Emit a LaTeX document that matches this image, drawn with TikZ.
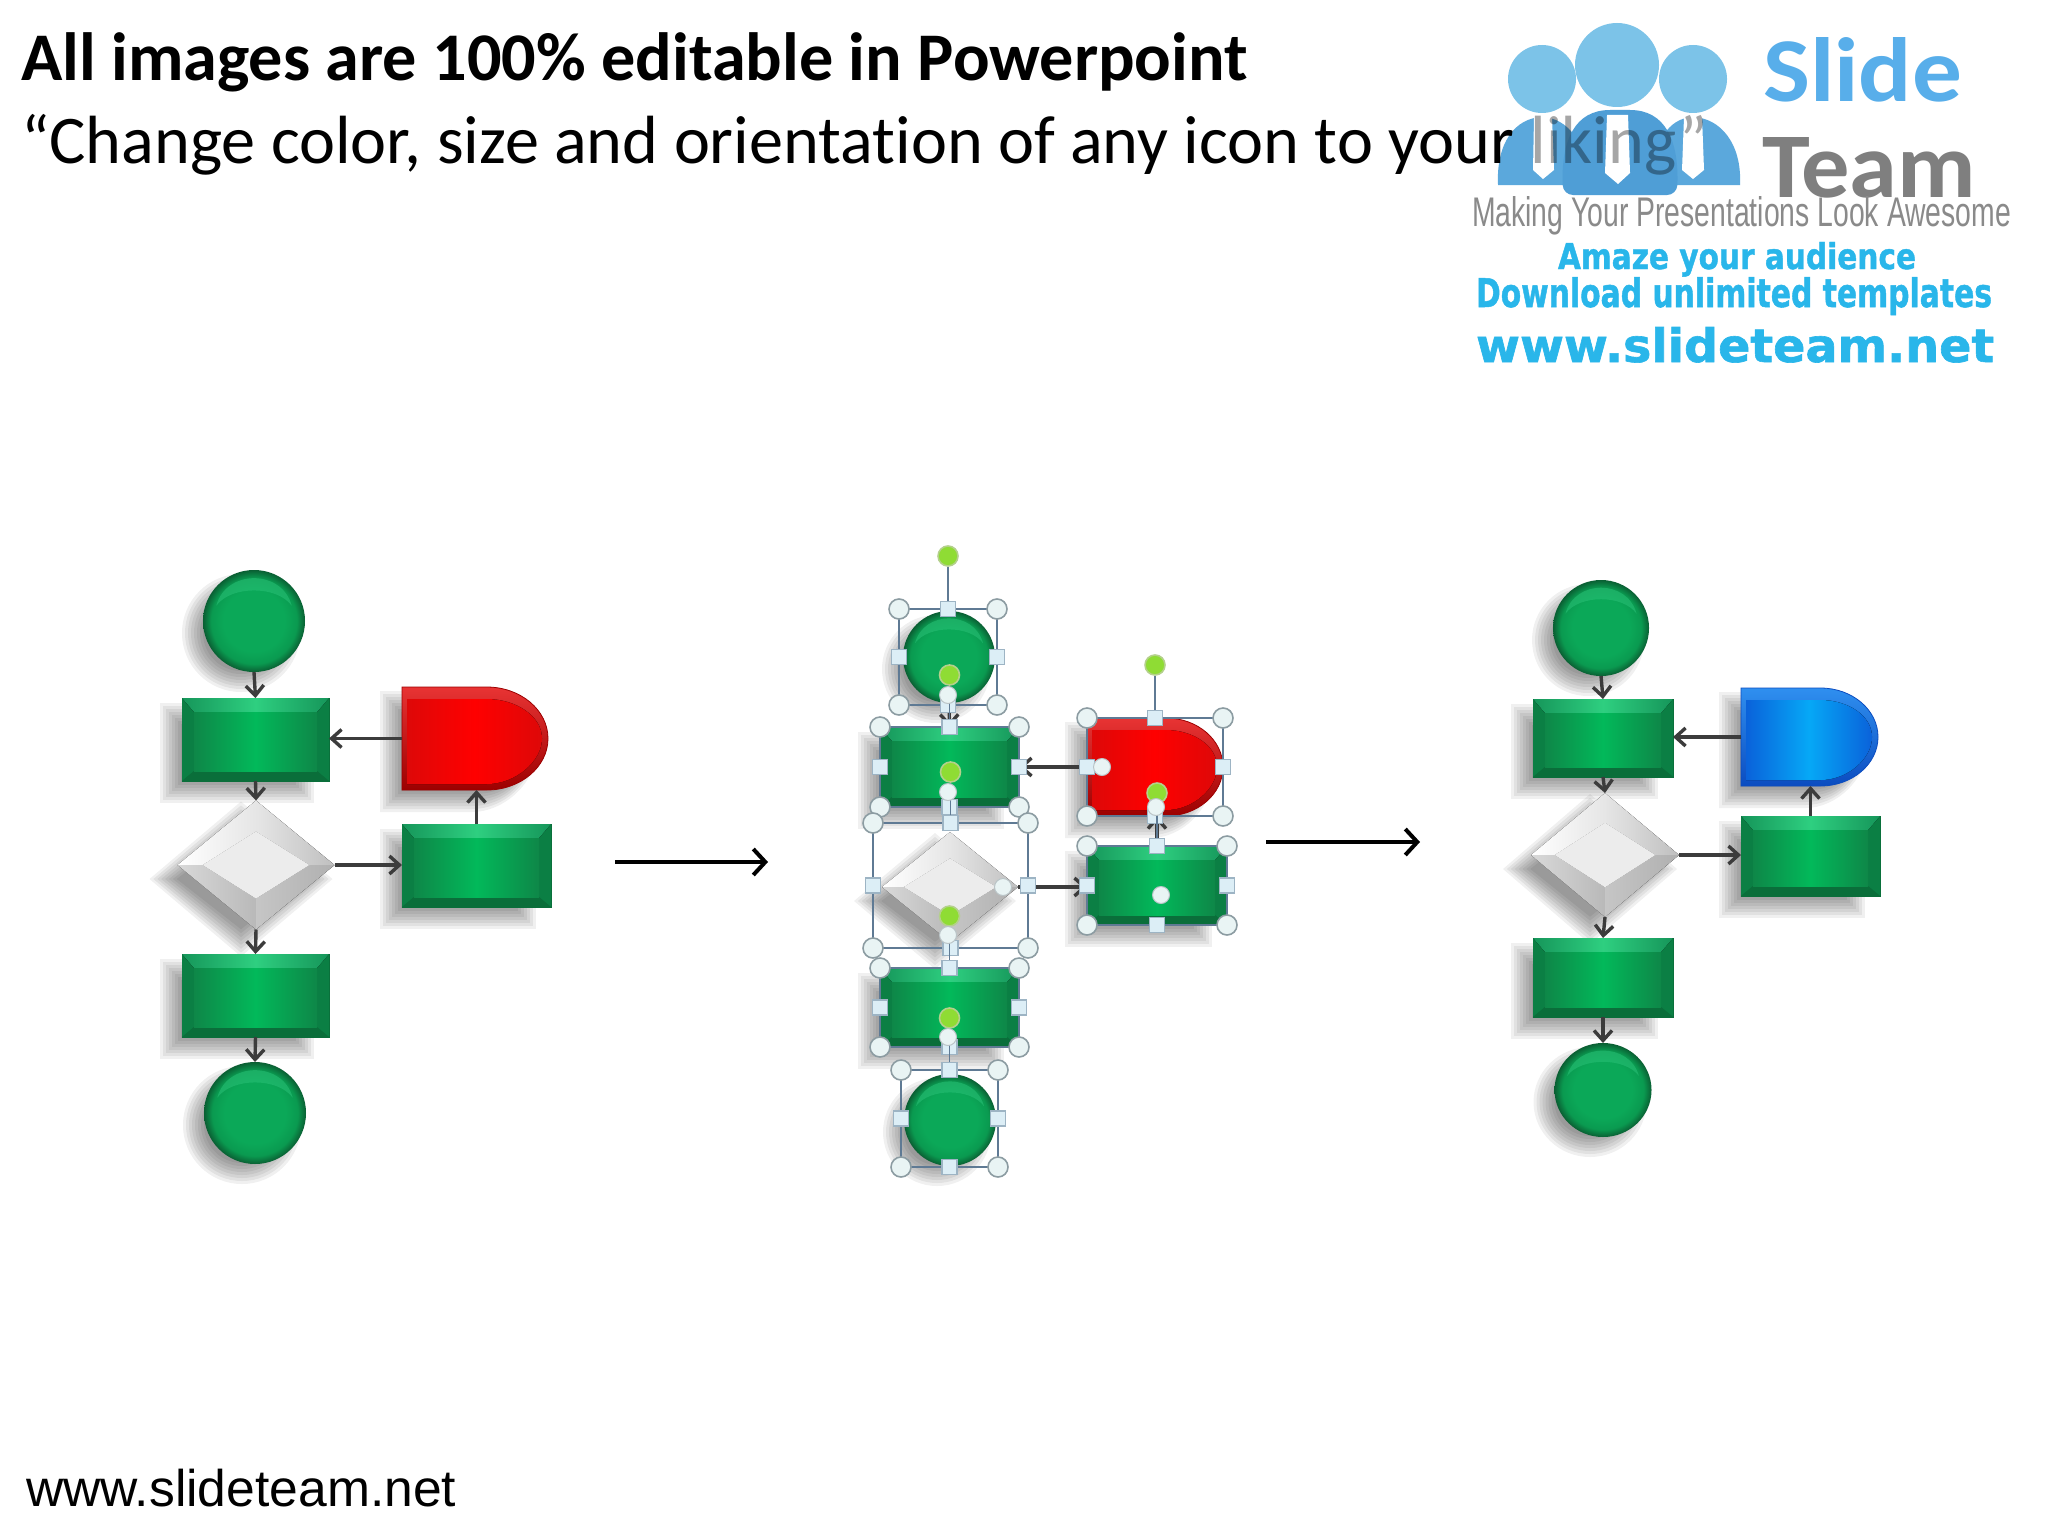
\documentclass[tikz,border=0pt]{standalone}
\usepackage{fontspec}
\usepackage{graphicx}
\usetikzlibrary{arrows.meta,shapes.geometric,calc}
\setmainfont{Carlito}[Ligatures=NoCommon]
\newfontfamily\libsans{Liberation Sans}
\newfontfamily\dejavu{DejaVu Sans}[BoldFeatures={FakeBold=1.3}]
\definecolor{gedge}{HTML}{0A6E3A}
\definecolor{gside}{HTML}{0B7F44}
\definecolor{gtopE}{HTML}{16965A}
\definecolor{gtopM}{HTML}{2ECF80}
\definecolor{gdark}{HTML}{0E8748}
\definecolor{gmid}{HTML}{02B95A}
\definecolor{ballA}{HTML}{0BA858}
\definecolor{ballB}{HTML}{0A9A50}
\definecolor{ballC}{HTML}{0A5F33}
\definecolor{ballH}{HTML}{2CC47A}
\definecolor{conn}{HTML}{3C3C3C}
\definecolor{selc}{HTML}{5F7A94}
\definecolor{hcircf}{HTML}{E9F4F4}
\definecolor{hcircd}{HTML}{8C9CA2}
\definecolor{hsqf}{HTML}{DCEEF6}
\definecolor{hsqd}{HTML}{9DB4C4}
\definecolor{rotf}{HTML}{8FDC34}
\definecolor{rotd}{HTML}{B4D08C}
\definecolor{logoA}{HTML}{7CC3E8}
\definecolor{logoB}{HTML}{5BA8DC}
\definecolor{logoC}{HTML}{4F9ED6}
\definecolor{slidec}{HTML}{58AEEA}
\definecolor{teamc}{HTML}{7F7F7F}
\definecolor{tagc}{HTML}{8A8A8A}
\definecolor{cyanc}{HTML}{29B6EA}
\definecolor{redtop}{HTML}{E83434}
\definecolor{redbot}{HTML}{9C0000}
\definecolor{rede}{HTML}{DE0808}
\definecolor{redm}{HTML}{FF0000}
\definecolor{blutop}{HTML}{2F8FEF}
\definecolor{blubot}{HTML}{0B4CC0}
\definecolor{blue}{HTML}{0A62DA}
\definecolor{blum}{HTML}{06A8F6}
\pgfdeclareradialshading{gball}{\pgfpointorigin}{color(0bp)=(ballA); color(15bp)=(ballA); color(21bp)=(ballB); color(25bp)=(ballC); color(50bp)=(ballC)}
\newcommand\shsteps{10,7,4,1,-2,-5,-8,-11}
\tikzset{
  shadowstep/.style={black,opacity=0.06},
  plainnode/.style={inner sep=0pt,outer sep=0pt},
  conn/.style={draw=conn,line width=1.7pt,-{Straight Barb[length=5pt,width=9pt,line width=1.7pt]}},
  bigarrow/.style={draw=black,line width=2pt,-{Straight Barb[length=6pt,width=13pt,line width=2pt]}},
  selline/.style={draw=selc,line width=0.8pt},
  hcirc/.style={circle,draw=hcircd,fill=hcircf,line width=0.8pt,minimum size=10pt,inner sep=0pt},
  hsq/.style={rectangle,draw=hsqd,fill=hsqf,line width=0.6pt,minimum size=7.5pt,inner sep=0pt},
  hadj/.style={circle,draw=hcircd!60,fill=hcircf,line width=0.5pt,minimum size=8.5pt,inner sep=0pt},
  hrot/.style={circle,draw=rotd,fill=rotf,line width=0.8pt,minimum size=10pt,inner sep=0pt},
  lbl/.style={inner sep=0pt,outer sep=0pt,anchor=base west},
}
% name x1 y1 x2 y2
\newcommand\grect[5]{%
  \foreach \g in \shsteps {\fill[shadowstep] ({#2-12-\g},{#3+15-\g}) rectangle ({#4-25+\g},{#5+12+\g});}
  \node[plainnode,rectangle,draw=gedge,fill=gedge,line width=0.5pt,minimum width={(#4-#2)*0.5pt},minimum height={(#5-#3)*0.5pt}] (#1) at ({(#2+#4)/2},{(#3+#5)/2}) {};
  \fill[gside] (#2,#3) -- ({#2+12},{#3+14}) -- ({#2+12},{#5-10}) -- (#2,#5) -- cycle;
  \fill[gside] (#4,#3) -- ({#4-12},{#3+14}) -- ({#4-12},{#5-10}) -- (#4,#5) -- cycle;
  \fill[gedge] (#2,#5) -- ({#2+12},{#5-10}) -- ({#4-12},{#5-10}) -- (#4,#5) -- cycle;
  \fill[left color=gtopE,right color=gtopE,middle color=gtopM] (#2,#3) -- (#4,#3) -- ({#4-12},{#3+14}) -- ({#2+12},{#3+14}) -- cycle;
  \fill[left color=gdark,right color=gdark,middle color=gmid] ({#2+12},{#3+14}) rectangle ({#4-12},{#5-10});
}
% name cx cy rx ry
\newcommand\gball[5]{%
  \foreach \g in \shsteps {\fill[shadowstep] ({#2-13},{#3+12}) ellipse [x radius={#4-2+\g},y radius={#5-2+\g}];}
  \node[plainnode,ellipse,shading=gball,minimum width={2*#4*0.5pt},minimum height={2*#5*0.5pt}] (#1) at (#2,#3) {};
  \fill[ballH,opacity=0.5] ({#2-.74*#4},{#3-.3*#5}) .. controls ({#2-.55*#4},{#3-1.02*#5}) and ({#2+.55*#4},{#3-1.02*#5}) .. ({#2+.74*#4},{#3-.3*#5}) .. controls ({#2+.45*#4},{#3-.7*#5}) and ({#2-.45*#4},{#3-.7*#5}) .. cycle;
}
% name x1 y1 x2 y2 band-top band-bottom inner-edge inner-mid
\newcommand\dshape[9]{%
  \pgfmathsetmacro\dxm{#2+0.58*(#4-#2)}
  \pgfmathsetmacro\dcy{(#3+#5)/2}
  \pgfmathsetmacro\dka{0.5523*(#4-\dxm)}
  \pgfmathsetmacro\dkb{0.5523*(#5-#3)/2}
  \foreach \g in \shsteps {\fill[shadowstep] ({#2-12-\g},{#3+14-\g}) -- ({\dxm-15},{#3+14-\g}) .. controls ({\dxm-15+\dka},{#3+14-\g}) and ({#4-22+\g},{\dcy+14-\dkb}) .. ({#4-22+\g},{\dcy+14}) .. controls ({#4-22+\g},{\dcy+14+\dkb}) and ({\dxm-15+\dka},{#5+12+\g}) .. ({\dxm-15},{#5+12+\g}) -- ({#2-12-\g},{#5+12+\g}) -- cycle;}
  \node[plainnode,rectangle,minimum width={(#4-#2)*0.5pt},minimum height={(#5-#3)*0.5pt}] (#1) at ({(#2+#4)/2},\dcy) {};
  \path[top color=#6,bottom color=#7,draw=#7,line width=0.4pt] (#2,#3) -- (\dxm,#3) .. controls ({\dxm+\dka},#3) and (#4,{\dcy-\dkb}) .. (#4,\dcy) .. controls (#4,{\dcy+\dkb}) and ({\dxm+\dka},#5) .. (\dxm,#5) -- (#2,#5) -- cycle;
  \fill[left color=#8,right color=#8,middle color=#9] ({#2+5},{#3+12}) -- (\dxm,{#3+12}) .. controls ({\dxm+.85*\dka},{#3+12}) and ({#4-6},{\dcy-.8*\dkb}) .. ({#4-6},\dcy) .. controls ({#4-6},{\dcy+.8*\dkb}) and ({\dxm+.85*\dka},{#5-6}) .. (\dxm,{#5-6}) -- ({#2+5},{#5-6}) -- cycle;
}
% name cx cy w h
\newcommand\gdiamond[5]{%
  \pgfmathsetmacro\dasp{#4/#5}
  \pgfmathsetmacro\hw{#4/2}\pgfmathsetmacro\hh{#5/2}
  \pgfmathsetmacro\iw{0.68*\hw}\pgfmathsetmacro\ih{0.52*\hh}
  \foreach \g in \shsteps {\fill[shadowstep] ({#2-15-\hw-1.3*\g},{#3+14}) -- ({#2-15},{#3+14-\hh-1.3*\g}) -- ({#2-15+\hw+1.3*\g},{#3+14}) -- ({#2-15},{#3+14+\hh+1.3*\g}) -- cycle;}
  \node[plainnode,diamond,aspect=\dasp,fill=gray!45,minimum width={#4*0.5pt},minimum height={#5*0.5pt}] (#1) at (#2,#3) {};
  \fill[left color=white,right color=gray!20] ({#2-\hw},#3) -- (#2,{#3-\hh}) -- (#2,{#3-\ih}) -- ({#2-\iw},#3) -- cycle;
  \fill[left color=gray!20,right color=gray!50] (#2,{#3-\hh}) -- ({#2+\hw},#3) -- ({#2+\iw},#3) -- (#2,{#3-\ih}) -- cycle;
  \fill[left color=gray!30,right color=gray!55] ({#2-\hw},#3) -- (#2,{#3+\hh}) -- (#2,{#3+\ih}) -- ({#2-\iw},#3) -- cycle;
  \fill[left color=gray!45,right color=gray!62] (#2,{#3+\hh}) -- ({#2+\hw},#3) -- ({#2+\iw},#3) -- (#2,{#3+\ih}) -- cycle;
  \fill[gray!15] ({#2-\iw},#3) -- (#2,{#3-\ih}) -- ({#2+\iw},#3) -- (#2,{#3+\ih}) -- cycle;
}
% name x1 y1 x2 y2 roty
\newcommand\selbox[6]{%
  \node[plainnode,rectangle,selline,minimum width={(#4-#2)*0.5pt},minimum height={(#5-#3)*0.5pt}] (#1) at ({(#2+#4)/2},{(#3+#5)/2}) {};
  \node[hrot] (#1r) at ({(#2+#4)/2},#6) {};
  \draw[selline] (#1r) -- (#1.north);
  \node[hcirc] (#1nw) at (#1.north west) {};
  \node[hcirc] (#1ne) at (#1.north east) {};
  \node[hcirc] (#1sw) at (#1.south west) {};
  \node[hcirc] (#1se) at (#1.south east) {};
  \node[hsq] (#1n) at (#1.north) {};
  \node[hsq] (#1s) at (#1.south) {};
  \node[hsq] (#1w) at (#1.west) {};
  \node[hsq] (#1e) at (#1.east) {};
}
\begin{document}
\begin{tikzpicture}[x=0.5pt,y=-0.5pt]
\useasboundingbox (0,0) rectangle (2048,1536);
\fill[white] (0,0) rectangle (2048,1536);

% ---- logo figures
\fill[logoB] (1498,185) .. controls (1496,143) and (1515,118) .. (1542,117) .. controls (1568,118) and (1588,143) .. (1586,185) -- cycle;
\fill[logoB] (1652,185) .. controls (1652,143) and (1668,118) .. (1693,117) .. controls (1720,118) and (1742,143) .. (1740,185) -- cycle;
\fill[logoA] (1542,79) ellipse [x radius=34,y radius=34];
\fill[logoA] (1693,79) ellipse [x radius=34,y radius=34];
\fill[logoC,rounded corners=5pt] (1563,195) .. controls (1561,140) and (1575,110) .. (1620,110) .. controls (1665,110) and (1679,140) .. (1677,195) -- cycle;
\fill[logoA] (1617,65) ellipse [x radius=42,y radius=42];
\fill[white] (1534,117) -- (1552,117) -- (1554,170) -- (1543,179) -- (1533,170) -- cycle;
\fill[white] (1607,115) -- (1628,115) -- (1630,173) -- (1618,184) -- (1605,173) -- cycle;
\fill[white] (1684,117) -- (1702,117) -- (1704,170) -- (1693,179) -- (1682,170) -- cycle;

% ---- header text
\node[lbl,font=\bfseries\fontsize{34.1}{40}\selectfont] (title) at (21,81) {All images are 100\% editable in Powerpoint};
\node[lbl,font=\fontsize{34.1}{40}\selectfont] (sub) at (21,163) {“Change color, size and orientation of any icon to your};
\node[lbl,font=\fontsize{34.1}{40}\selectfont,text opacity=0.35,xshift=8pt] (subb) at (sub.base east) {liking”};

% ---- logo text
\node[lbl,text=slidec,font=\bfseries] (ls) at (1763,101) {\resizebox{99.5pt}{32pt}{Slide}};
\node[lbl,text=teamc,font=\bfseries] (lt) at (1762,197) {\resizebox{107pt}{30pt}{Team}};
\node[lbl,text=tagc,font=\libsans] (lm) at (1472,226) {\resizebox{269.5pt}{15pt}{Making Your Presentations Look Awesome}};
\node[lbl,text=cyanc,font=\dejavu\bfseries] (la) at (1558,269) {\resizebox{179pt}{13.5pt}{Amaze your audience}};
\node[lbl,text=cyanc,font=\dejavu\bfseries] (ld) at (1476,307) {\resizebox{258pt}{15pt}{Download unlimited templates}};
\node[lbl,text=cyanc,font=\dejavu\bfseries] (lw) at (1476,362) {\resizebox{259pt}{17.5pt}{www.slideteam.net}};

% ---- footer
\node[lbl,font=\libsans\fontsize{25.8}{30}\selectfont] (foot) at (26,1506) {www.slideteam.net};

% ---- left flowchart
\gball{ac1}{254}{621}{51}{51}
\grect{ar1}{182}{698}{329}{781}
\dshape{ad}{402}{687}{548}{790}{redtop}{redbot}{rede}{redm}
\gdiamond{adi}{256}{865}{157}{129}
\grect{arr}{402}{824}{551}{907}
\grect{ar3}{182}{954}{329}{1037}
\gball{ac2}{255}{1113}{51}{51}
\draw[conn] (ac1.south) -- (ar1.north);
\draw[conn] (ar1.south) -- (adi.north);
\draw[conn] (adi.south) -- (ar3.north);
\draw[conn] (ar3.south) -- (ac2.north);
\draw[conn] (ad.west) -- (ad.west -| ar1.east);
\draw[conn] (adi.east) -- (adi.east -| arr.west);
\draw[conn] (arr.north) -- (arr.north |- ad.south);

% ---- middle flowchart
\gball{bc1}{949}{657}{46}{46}
\grect{br1}{880}{727}{1019}{807}
\dshape{bd}{1087}{718}{1223}{816}{redtop}{redbot}{rede}{redm}
\gdiamond{bdi}{950}{887}{136}{110}
\grect{brr}{1087}{846}{1227}{925}
\grect{br3}{880}{968}{1019}{1047}
\gball{bc2}{950}{1120}{46}{46}
\draw[conn] (bc1.south) -- (br1.north);
\draw[conn] (bd.west) -- (bd.west -| br1.east);
\draw[conn] (bdi.east) -- (bdi.east -| brr.west);
\draw[conn] (brr.north) -- (brr.north |- bd.south);

\selbox{s1}{899}{609}{997}{705}{556}
\selbox{s2}{880}{727}{1019}{807}{675}
\selbox{s3}{873}{823}{1028}{948}{772}
\selbox{s4}{880}{968}{1019}{1047}{916}
\selbox{s5}{901}{1070}{998}{1167}{1018}
\selbox{s6}{1087}{718}{1223}{816}{665}
\selbox{s7}{1087}{846}{1227}{925}{793}
\node[hadj] (j1) at (948,695) {};
\node[hadj] (j2) at (948,792) {};
\node[hadj] (j3) at (948,935) {};
\node[hadj] (j4) at (948,1037) {};
\node[hadj] (j5) at (1156,807) {};
\node[hadj] (j6) at (1102,767) {};
\node[hadj] (j7) at (1003,887) {};
\node[hadj] (j8) at (1161,895) {};

% ---- right flowchart
\gball{cc1}{1601}{628}{48}{48}
\grect{cr1}{1533}{699}{1673}{777}
\dshape{cd}{1741}{688}{1878}{786}{blutop}{blubot}{blue}{blum}
\gdiamond{cdi}{1605}{855}{148}{124}
\grect{crr}{1741}{816}{1880}{896}
\grect{cr3}{1533}{938}{1673}{1017}
\gball{cc2}{1603}{1090}{48.5}{47}
\draw[conn] (cc1.south) -- (cr1.north);
\draw[conn] (cr1.south) -- (cdi.north);
\draw[conn] (cdi.south) -- (cr3.north);
\draw[conn] (cr3.south) -- (cc2.north);
\draw[conn] (cd.west) -- (cd.west -| cr1.east);
\draw[conn] (cdi.east) -- (cdi.east -| crr.west);
\draw[conn] (crr.north) -- (crr.north |- cd.south);

% ---- big arrows
\coordinate (ba1) at (615,862);
\coordinate (ba2) at (768,862);
\coordinate (bb1) at (1266,842);
\coordinate (bb2) at (1420,842);
\draw[bigarrow] (ba1) -- (ba2);
\draw[bigarrow] (bb1) -- (bb2);
\end{tikzpicture}
\end{document}
